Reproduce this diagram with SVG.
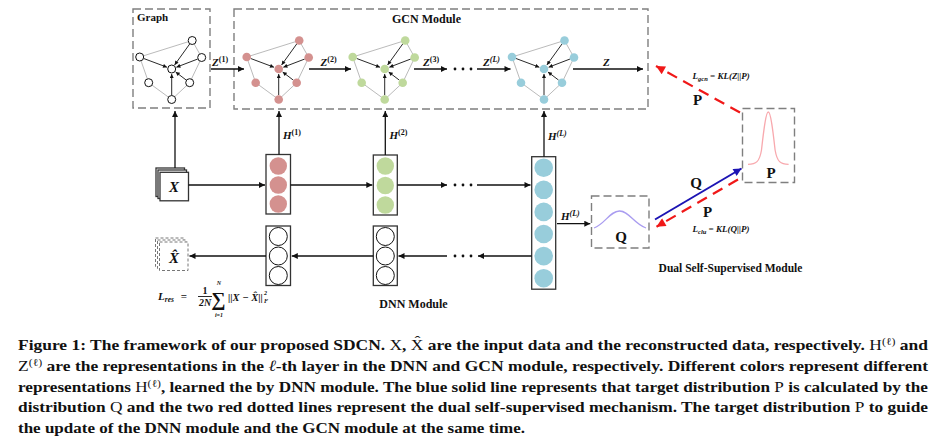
<svg xmlns="http://www.w3.org/2000/svg" width="947" height="436" viewBox="0 0 947 436">
<defs>
<style>
.dbox{fill:none;stroke:#7f7f7f;stroke-width:1.4;stroke-dasharray:8 4}
.ln{stroke:#111;stroke-width:1.3;fill:none}
.thin{stroke:#111;stroke-width:0.9;fill:none}
.gedge{fill:none;stroke:#a8a8a8;stroke-width:0.8}
.col{fill:#fff;stroke:#333;stroke-width:1.3}
.cw{fill:#fff;stroke:#111;stroke-width:1}
.cr{fill:#d4918f}
.cg{fill:#bfd99c}
.cb{fill:#98cddb}
.t{font-family:"Liberation Serif","Times New Roman",serif;font-weight:bold;fill:#111}
.m{font-family:"Liberation Serif","Times New Roman",serif;font-weight:bold;font-style:italic;fill:#111}
.cap{font-family:"Liberation Serif","Times New Roman",serif;font-weight:bold;font-size:15.5px;fill:#111}
.nw{font-weight:normal}
</style>
<marker id="ah" viewBox="0 0 10 10" refX="10" refY="5" markerWidth="8" markerHeight="6" markerUnits="userSpaceOnUse" orient="auto"><path d="M0,0 L10,5 L0,10 z" fill="#111"/></marker>
<marker id="ahs" viewBox="0 0 10 10" refX="10" refY="5" markerWidth="5" markerHeight="4" markerUnits="userSpaceOnUse" orient="auto"><path d="M0,0 L10,5 L0,10 z" fill="#111"/></marker>
<marker id="ahr" viewBox="0 0 10 10" refX="10" refY="5" markerWidth="12" markerHeight="9" markerUnits="userSpaceOnUse" orient="auto"><path d="M0,0 L10,5 L0,10 z" fill="#f01818"/></marker>
<marker id="ahb" viewBox="0 0 10 10" refX="10" refY="5" markerWidth="11" markerHeight="8" markerUnits="userSpaceOnUse" orient="auto"><path d="M0,0 L10,5 L0,10 z" fill="#1c14b4"/></marker>
<g id="gframe">
<polygon class="gedge" points="-32,-12 20.5,-28.5 30,-11.5 18,13.7 0,30.5 -23,13.7"/>
<line class="thin" x1="-27.97" y1="-10.49" x2="-4.68" y2="-1.76" marker-end="url(#ahs)"/>
<line class="thin" x1="17.99" y1="-25.01" x2="2.92" y2="-4.06" marker-end="url(#ahs)"/>
<line class="thin" x1="25.98" y1="-9.96" x2="4.67" y2="-1.79" marker-end="url(#ahs)"/>
<line class="thin" x1="14.58" y1="11.1" x2="3.98" y2="3.03" marker-end="url(#ahs)"/>
<line class="thin" x1="0" y1="26.2" x2="0" y2="5" marker-end="url(#ahs)"/>
</g>
</defs>
<rect width="947" height="436" fill="#fff"/>

<!-- module frames -->
<g id="graph-box">
<rect class="dbox" x="133" y="9" width="77" height="99"/>
<text class="t" x="137" y="21" font-size="11">Graph</text>
</g>
<g id="gcn-box">
<rect class="dbox" x="234" y="9" width="414" height="100"/>
<text class="t" x="426.5" y="23" font-size="12" text-anchor="middle">GCN Module</text>
</g>

<!-- graphs -->
<g id="graph0" transform="translate(171.7,69)">
<use href="#gframe"/>
<g class="cw"><circle cx="-32" cy="-12" r="4"/><circle cx="20.5" cy="-28.5" r="4"/><circle cx="30" cy="-11.5" r="4"/><circle cx="18" cy="13.7" r="4"/><circle cx="0" cy="30.5" r="4"/><circle cx="-23" cy="13.7" r="4"/><circle cx="0" cy="0" r="4"/></g>
</g>
<g id="graph1" transform="translate(278.7,69)">
<use href="#gframe"/>
<g class="cr"><circle cx="-32" cy="-12" r="4.3"/><circle cx="20.5" cy="-28.5" r="4.3"/><circle cx="30" cy="-11.5" r="4.3"/><circle cx="18" cy="13.7" r="4.3"/><circle cx="0" cy="30.5" r="4.3"/><circle cx="-23" cy="13.7" r="4.3"/><circle cx="0" cy="0" r="4.3"/></g>
</g>
<g id="graph2" transform="translate(384.7,69)">
<use href="#gframe"/>
<g class="cg"><circle cx="-32" cy="-12" r="4.3"/><circle cx="20.5" cy="-28.5" r="4.3"/><circle cx="30" cy="-11.5" r="4.3"/><circle cx="18" cy="13.7" r="4.3"/><circle cx="0" cy="30.5" r="4.3"/><circle cx="-23" cy="13.7" r="4.3"/><circle cx="0" cy="0" r="4.3"/></g>
</g>
<g id="graphL" transform="translate(544,69)">
<use href="#gframe"/>
<g class="cb"><circle cx="-32" cy="-12" r="4.3"/><circle cx="20.5" cy="-28.5" r="4.3"/><circle cx="30" cy="-11.5" r="4.3"/><circle cx="18" cy="13.7" r="4.3"/><circle cx="0" cy="30.5" r="4.3"/><circle cx="-23" cy="13.7" r="4.3"/><circle cx="0" cy="0" r="4.3"/></g>
</g>

<!-- DNN nodes -->
<g id="x-input">
<rect class="col" x="156" y="168" width="28.5" height="28.5" stroke-width="1"/>
<rect class="col" x="158" y="170" width="28.5" height="28.5" stroke-width="1"/>
<rect class="col" x="160" y="172.3" width="28.5" height="28.5" stroke-width="1"/>
<text class="m" x="174" y="192" font-size="15" text-anchor="middle">X</text>
</g>
<g id="x-recon">
<rect x="155.5" y="238" width="28.5" height="28.5" fill="#fff" stroke="#777" stroke-width="1" stroke-dasharray="3 2"/>
<rect x="157.5" y="240" width="28.5" height="28.5" fill="#fff" stroke="#777" stroke-width="1" stroke-dasharray="3 2"/>
<rect x="159.5" y="242" width="28.5" height="28.5" fill="#fff" stroke="#777" stroke-width="1" stroke-dasharray="3 2"/>
<text class="m" x="174" y="263" font-size="15" text-anchor="middle">X&#x302;</text>
</g>
<g id="enc1">
<rect class="col" x="266" y="154.5" width="24.5" height="59.5"/>
<circle class="cr" cx="278.3" cy="166" r="8.7"/><circle class="cr" cx="278.3" cy="185" r="8.7"/><circle class="cr" cx="278.3" cy="204" r="8.7"/>
</g>
<g id="enc2">
<rect class="col" x="373.3" y="155" width="24" height="60"/>
<circle class="cg" cx="385.3" cy="166" r="8.7"/><circle class="cg" cx="385.3" cy="185.5" r="8.7"/><circle class="cg" cx="385.3" cy="205" r="8.7"/>
</g>
<g id="encL">
<rect class="col" x="531.7" y="156.7" width="24" height="132.5"/>
<circle class="cb" cx="543.7" cy="167.7" r="9.3"/><circle class="cb" cx="543.7" cy="189.8" r="9.3"/><circle class="cb" cx="543.7" cy="211.9" r="9.3"/><circle class="cb" cx="543.7" cy="234" r="9.3"/><circle class="cb" cx="543.7" cy="256.1" r="9.3"/><circle class="cb" cx="543.7" cy="278.2" r="9.3"/>
</g>
<g id="dec1">
<rect class="col" x="266" y="226" width="24.5" height="59.5"/>
<circle class="cw" cx="278.3" cy="236.5" r="9"/><circle class="cw" cx="278.3" cy="256" r="9"/><circle class="cw" cx="278.3" cy="275.5" r="9"/>
</g>
<g id="dec2">
<rect class="col" x="373.3" y="226" width="24" height="59.5"/>
<circle class="cw" cx="385.3" cy="236.5" r="9"/><circle class="cw" cx="385.3" cy="256" r="9"/><circle class="cw" cx="385.3" cy="275.5" r="9"/>
</g>
<g id="dnn-label">
<text class="t" x="413.5" y="308" font-size="12" text-anchor="middle">DNN Module</text>
</g>
<g id="lres">
<text class="m" x="158" y="300" font-size="11">L<tspan font-size="7.5" dy="2">res</tspan></text>
<text class="t" x="184" y="300" font-size="11" text-anchor="middle">=</text>
<text class="t" x="205" y="293.5" font-size="10" text-anchor="middle">1</text>
<line x1="198" y1="296.5" x2="212" y2="296.5" stroke="#111" stroke-width="0.9"/>
<text class="m" x="205" y="306" font-size="10" text-anchor="middle">2N</text>
<text class="t" x="218.5" y="306" font-size="20" font-weight="normal" text-anchor="middle">∑</text>
<text class="m" x="219" y="285" font-size="6" text-anchor="middle">N</text>
<text class="m" x="219" y="317" font-size="6" text-anchor="middle">i=1</text>
<text class="m" x="228" y="300.5" font-size="10.5">||X − X&#x302;||</text>
<text class="m" x="264" y="295" font-size="6">2</text>
<text class="m" x="264" y="303" font-size="6">F</text>
</g>

<!-- Dual self-supervised -->
<g id="q-box">
<rect class="dbox" x="591.5" y="196" width="57.5" height="52"/>
<path d="M594,228 C605,224 610,211 619.5,211 C629,211 634,224 646,228" fill="none" stroke="#a99cf0" stroke-width="1.3"/>
<text class="t" x="621" y="242" font-size="15" text-anchor="middle">Q</text>
</g>
<g id="p-box">
<rect class="dbox" x="742.5" y="108.5" width="52" height="74"/>
<path d="M748,164.3 C756,164.3 759.5,162 761.5,150 C763.5,132 765.8,112 768.3,112 C770.8,112 773.1,132 775.1,150 C777.1,162 780.6,164.3 788.6,164.3" fill="none" stroke="#f8a9ae" stroke-width="1.3"/>
<text class="t" x="771" y="178" font-size="15" text-anchor="middle">P</text>
</g>
<g id="dual-label">
<text class="t" x="730.5" y="272" font-size="11.5" text-anchor="middle">Dual Self-Supervised Module</text>
</g>

<!-- connectors -->
<g id="connectors">
<line class="ln" x1="211" y1="69" x2="244" y2="69" marker-end="url(#ah)"/>
<line class="ln" x1="309" y1="69" x2="351" y2="69" marker-end="url(#ah)"/>
<line class="ln" x1="414" y1="69" x2="447" y2="69" marker-end="url(#ah)"/>
<line class="ln" x1="477" y1="69" x2="510.5" y2="69" marker-end="url(#ah)"/>
<line class="ln" x1="573" y1="69" x2="643" y2="69" marker-end="url(#ah)"/>
<g fill="#111"><circle cx="455" cy="69" r="1.4"/><circle cx="463" cy="69" r="1.4"/><circle cx="471" cy="69" r="1.4"/>
<circle cx="455" cy="185" r="1.4"/><circle cx="463" cy="185" r="1.4"/><circle cx="471" cy="185" r="1.4"/>
<circle cx="455" cy="256" r="1.4"/><circle cx="463" cy="256" r="1.4"/><circle cx="471" cy="256" r="1.4"/></g>

<line class="ln" x1="175" y1="168" x2="175" y2="111" marker-end="url(#ah)"/>
<line class="ln" x1="279" y1="154.5" x2="279" y2="111" marker-end="url(#ah)"/>
<line class="ln" x1="385.3" y1="155" x2="385.3" y2="111" marker-end="url(#ah)"/>
<line class="ln" x1="544" y1="156.7" x2="544" y2="111" marker-end="url(#ah)"/>

<line class="ln" x1="188.5" y1="185" x2="265" y2="185" marker-end="url(#ah)"/>
<line class="ln" x1="290.5" y1="185" x2="372.3" y2="185" marker-end="url(#ah)"/>
<line class="ln" x1="397.3" y1="185" x2="447" y2="185" marker-end="url(#ah)"/>
<line class="ln" x1="477" y1="185" x2="530.5" y2="185" marker-end="url(#ah)"/>

<line class="ln" x1="531.7" y1="256" x2="478" y2="256" marker-end="url(#ah)"/>
<line class="ln" x1="447" y1="256" x2="398.5" y2="256" marker-end="url(#ah)"/>
<line class="ln" x1="373.3" y1="256" x2="291.8" y2="256" marker-end="url(#ah)"/>
<line class="ln" x1="266" y1="256" x2="189.5" y2="256" marker-end="url(#ah)"/>

<line class="ln" x1="557" y1="223.7" x2="590.3" y2="223.7" marker-end="url(#ah)"/>

<line x1="740" y1="112.5" x2="656" y2="66" stroke="#f01818" stroke-width="2.2" stroke-dasharray="11 7" marker-end="url(#ahr)"/>
<line x1="655" y1="219.5" x2="741.5" y2="168.5" stroke="#1c14b4" stroke-width="2" marker-end="url(#ahb)"/>
<line x1="738" y1="179.5" x2="656.5" y2="226.7" stroke="#f01818" stroke-width="2.2" stroke-dasharray="11 7" marker-end="url(#ahr)"/>

<text class="m" x="212" y="66" font-size="11">Z<tspan font-size="8" dy="-4" font-style="normal">(1)</tspan></text>
<text class="m" x="320.5" y="66" font-size="11">Z<tspan font-size="8" dy="-4" font-style="normal">(2)</tspan></text>
<text class="m" x="423" y="66" font-size="11">Z<tspan font-size="8" dy="-4" font-style="normal">(3)</tspan></text>
<text class="m" x="483" y="66" font-size="11">Z<tspan font-size="8" dy="-4">(L)</tspan></text>
<text class="m" x="603" y="66" font-size="11">Z</text>
<text class="m" x="283" y="139" font-size="11">H<tspan font-size="8" dy="-4" font-style="normal">(1)</tspan></text>
<text class="m" x="389.5" y="139" font-size="11">H<tspan font-size="8" dy="-4" font-style="normal">(2)</tspan></text>
<text class="m" x="548" y="140" font-size="11">H<tspan font-size="8" dy="-4">(L)</tspan></text>
<text class="m" x="561" y="220" font-size="11">H<tspan font-size="8" dy="-4">(L)</tspan></text>

<text class="m" x="692.5" y="78.5" font-size="9">L<tspan font-size="6.5" dy="2">gcn</tspan><tspan dy="-2"> = KL(Z||P)</tspan></text>
<text class="t" x="697.5" y="105" font-size="15" text-anchor="middle">P</text>
<text class="t" x="696" y="187.5" font-size="15" text-anchor="middle">Q</text>
<text class="t" x="707.5" y="217" font-size="15" text-anchor="middle">P</text>
<text class="m" x="692.5" y="231.5" font-size="9">L<tspan font-size="6.5" dy="2">clu</tspan><tspan dy="-2"> = KL(Q||P)</tspan></text>
</g>

<!-- caption -->
<g id="caption">
<text class="cap" x="18" y="349.5" textLength="910" lengthAdjust="spacingAndGlyphs">Figure 1: The framework of our proposed SDCN. <tspan class="nw">X</tspan>, <tspan class="nw">X&#x302;</tspan> are the input data and the reconstructed data, respectively. <tspan class="nw">H</tspan><tspan class="nw" font-size="10.5" dy="-5">(ℓ)</tspan><tspan dy="5"> and</tspan></text>
<text class="cap" x="18" y="370.5" textLength="910" lengthAdjust="spacingAndGlyphs"><tspan class="nw">Z</tspan><tspan class="nw" font-size="10.5" dy="-5">(ℓ)</tspan><tspan dy="5"> are the representations in the </tspan><tspan class="nw" font-style="italic">ℓ</tspan>-th layer in the DNN and GCN module, respectively. Different colors represent different</text>
<text class="cap" x="18" y="391.5" textLength="910" lengthAdjust="spacingAndGlyphs">representations <tspan class="nw">H</tspan><tspan class="nw" font-size="10.5" dy="-5">(ℓ)</tspan><tspan dy="5">, learned the by DNN module. The blue solid line represents that target distribution </tspan><tspan class="nw">P</tspan> is calculated by the</text>
<text class="cap" x="18" y="412.3" textLength="910" lengthAdjust="spacingAndGlyphs">distribution <tspan class="nw">Q</tspan> and the two red dotted lines represent the dual self-supervised mechanism. The target distribution <tspan class="nw">P</tspan> to guide</text>
<text class="cap" x="18" y="433" textLength="507" lengthAdjust="spacingAndGlyphs">the update of the DNN module and the GCN module at the same time.</text>
</g>
</svg>
